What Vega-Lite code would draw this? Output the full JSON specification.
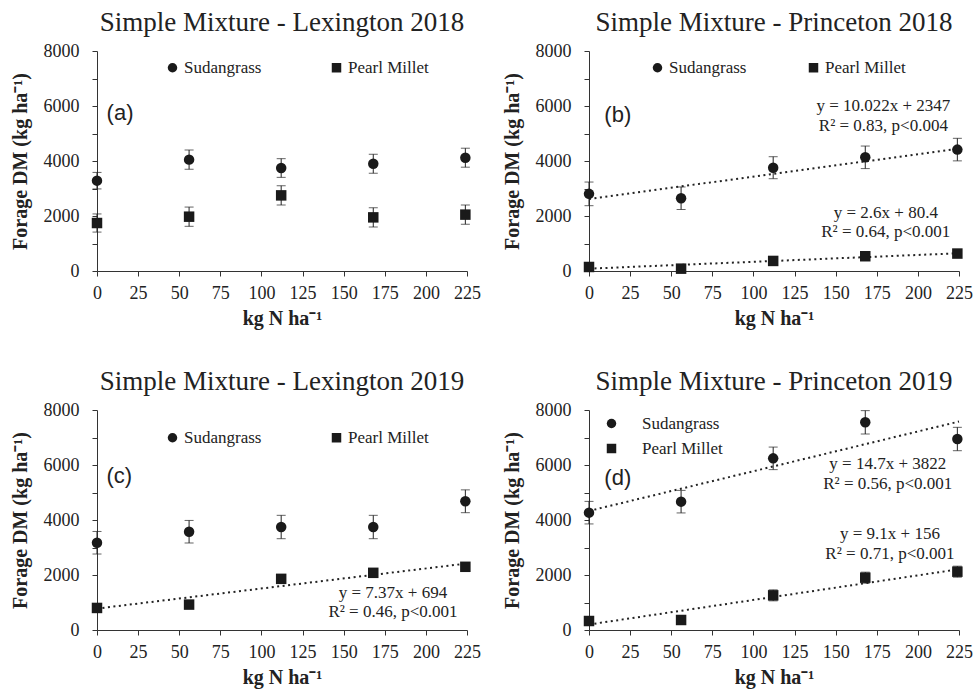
{
  "$schema": "https://vega.github.io/schema/vega-lite/v6.json",
  "columns": 2,
  "spacing": {"row": 40, "column": 21},
  "padding": {"left": 10, "top": 9, "right": 5, "bottom": 5},
  "datasets": {
    "d": [
      {"p": "a", "k": "pt", "sp": "Sudangrass", "n": 0, "dm": 3285, "lo": 2985, "hi": 3585},
      {"p": "a", "k": "pt", "sp": "Sudangrass", "n": 56, "dm": 4050, "lo": 3700, "hi": 4400},
      {"p": "a", "k": "pt", "sp": "Sudangrass", "n": 112, "dm": 3745, "lo": 3405, "hi": 4085},
      {"p": "a", "k": "pt", "sp": "Sudangrass", "n": 168, "dm": 3900, "lo": 3555, "hi": 4245},
      {"p": "a", "k": "pt", "sp": "Sudangrass", "n": 224, "dm": 4120, "lo": 3775, "hi": 4465},
      {"p": "a", "k": "pt", "sp": "Pearl Millet", "n": 0, "dm": 1745, "lo": 1415, "hi": 2075},
      {"p": "a", "k": "pt", "sp": "Pearl Millet", "n": 56, "dm": 1975, "lo": 1625, "hi": 2325},
      {"p": "a", "k": "pt", "sp": "Pearl Millet", "n": 112, "dm": 2750, "lo": 2400, "hi": 3100},
      {"p": "a", "k": "pt", "sp": "Pearl Millet", "n": 168, "dm": 1950, "lo": 1600, "hi": 2300},
      {"p": "a", "k": "pt", "sp": "Pearl Millet", "n": 224, "dm": 2050, "lo": 1700, "hi": 2400},
      {"p": "a", "k": "lab", "n": 14, "dm": 5745, "t": "(a)"},

      {"p": "b", "k": "pt", "sp": "Sudangrass", "n": 0, "dm": 2805, "lo": 2375, "hi": 3235},
      {"p": "b", "k": "pt", "sp": "Sudangrass", "n": 56, "dm": 2646, "lo": 2236, "hi": 3056},
      {"p": "b", "k": "pt", "sp": "Sudangrass", "n": 112, "dm": 3756, "lo": 3356, "hi": 4156},
      {"p": "b", "k": "pt", "sp": "Sudangrass", "n": 168, "dm": 4134, "lo": 3724, "hi": 4544},
      {"p": "b", "k": "pt", "sp": "Sudangrass", "n": 224, "dm": 4415, "lo": 4005, "hi": 4825},
      {"p": "b", "k": "pt", "sp": "Pearl Millet", "n": 0, "dm": 146, "lo": 66, "hi": 226},
      {"p": "b", "k": "pt", "sp": "Pearl Millet", "n": 56, "dm": 85, "lo": 5, "hi": 165},
      {"p": "b", "k": "pt", "sp": "Pearl Millet", "n": 112, "dm": 366, "lo": 286, "hi": 446},
      {"p": "b", "k": "pt", "sp": "Pearl Millet", "n": 168, "dm": 537, "lo": 457, "hi": 617},
      {"p": "b", "k": "pt", "sp": "Pearl Millet", "n": 224, "dm": 634, "lo": 554, "hi": 714},
      {"p": "b", "k": "ln", "sp": "Sudangrass", "n": 0, "dm": 2620},
      {"p": "b", "k": "ln", "sp": "Sudangrass", "n": 225, "dm": 4450},
      {"p": "b", "k": "ln", "sp": "Pearl Millet", "n": 0, "dm": 85},
      {"p": "b", "k": "ln", "sp": "Pearl Millet", "n": 225, "dm": 646},
      {"p": "b", "k": "eq", "n": 179, "dm": 5989, "t": "y = 10.022x + 2347"},
      {"p": "b", "k": "eq", "n": 179, "dm": 5284, "t": "R² = 0.83, p<0.004"},
      {"p": "b", "k": "eq", "n": 180.5, "dm": 2109, "t": "y = 2.6x + 80.4"},
      {"p": "b", "k": "eq", "n": 180.5, "dm": 1407, "t": "R² = 0.64, p<0.001"},
      {"p": "b", "k": "lab", "n": 17.5, "dm": 5685, "t": "(b)"},

      {"p": "c", "k": "pt", "sp": "Sudangrass", "n": 0, "dm": 3173, "lo": 2763, "hi": 3583},
      {"p": "c", "k": "pt", "sp": "Sudangrass", "n": 56, "dm": 3574, "lo": 3164, "hi": 3984},
      {"p": "c", "k": "pt", "sp": "Sudangrass", "n": 112, "dm": 3745, "lo": 3320, "hi": 4170},
      {"p": "c", "k": "pt", "sp": "Sudangrass", "n": 168, "dm": 3745, "lo": 3320, "hi": 4170},
      {"p": "c", "k": "pt", "sp": "Sudangrass", "n": 224, "dm": 4681, "lo": 4266, "hi": 5096},
      {"p": "c", "k": "pt", "sp": "Pearl Millet", "n": 0, "dm": 802, "lo": 702, "hi": 902},
      {"p": "c", "k": "pt", "sp": "Pearl Millet", "n": 56, "dm": 924, "lo": 824, "hi": 1024},
      {"p": "c", "k": "pt", "sp": "Pearl Millet", "n": 112, "dm": 1860, "lo": 1760, "hi": 1960},
      {"p": "c", "k": "pt", "sp": "Pearl Millet", "n": 168, "dm": 2079, "lo": 1979, "hi": 2179},
      {"p": "c", "k": "pt", "sp": "Pearl Millet", "n": 224, "dm": 2298, "lo": 2198, "hi": 2398},
      {"p": "c", "k": "ln", "sp": "Pearl Millet", "n": 0, "dm": 780},
      {"p": "c", "k": "ln", "sp": "Pearl Millet", "n": 225, "dm": 2420},
      {"p": "c", "k": "eq", "n": 180, "dm": 1356, "t": "y = 7.37x + 694"},
      {"p": "c", "k": "eq", "n": 180, "dm": 665, "t": "R² = 0.46, p<0.001"},
      {"p": "c", "k": "lab", "n": 13.6, "dm": 5600, "t": "(c)"},

      {"p": "d", "k": "pt", "sp": "Sudangrass", "n": 0, "dm": 4267, "lo": 3857, "hi": 4677},
      {"p": "d", "k": "pt", "sp": "Sudangrass", "n": 56, "dm": 4667, "lo": 4257, "hi": 5077},
      {"p": "d", "k": "pt", "sp": "Sudangrass", "n": 112, "dm": 6242, "lo": 5832, "hi": 6652},
      {"p": "d", "k": "pt", "sp": "Sudangrass", "n": 168, "dm": 7552, "lo": 7127, "hi": 7977},
      {"p": "d", "k": "pt", "sp": "Sudangrass", "n": 224, "dm": 6945, "lo": 6520, "hi": 7370},
      {"p": "d", "k": "pt", "sp": "Pearl Millet", "n": 0, "dm": 327, "lo": 177, "hi": 477},
      {"p": "d", "k": "pt", "sp": "Pearl Millet", "n": 56, "dm": 364, "lo": 214, "hi": 514},
      {"p": "d", "k": "pt", "sp": "Pearl Millet", "n": 112, "dm": 1260, "lo": 1060, "hi": 1460},
      {"p": "d", "k": "pt", "sp": "Pearl Millet", "n": 168, "dm": 1903, "lo": 1703, "hi": 2103},
      {"p": "d", "k": "pt", "sp": "Pearl Millet", "n": 224, "dm": 2121, "lo": 1921, "hi": 2321},
      {"p": "d", "k": "ln", "sp": "Sudangrass", "n": 0, "dm": 4330},
      {"p": "d", "k": "ln", "sp": "Sudangrass", "n": 225, "dm": 7580},
      {"p": "d", "k": "ln", "sp": "Pearl Millet", "n": 0, "dm": 200},
      {"p": "d", "k": "ln", "sp": "Pearl Millet", "n": 225, "dm": 2210},
      {"p": "d", "k": "eq", "n": 181.7, "dm": 6036, "t": "y = 14.7x + 3822"},
      {"p": "d", "k": "eq", "n": 181.7, "dm": 5309, "t": "R² = 0.56, p<0.001"},
      {"p": "d", "k": "eq", "n": 183, "dm": 3502, "t": "y = 9.1x + 156"},
      {"p": "d", "k": "eq", "n": 183, "dm": 2775, "t": "R² = 0.71, p<0.001"},
      {"p": "d", "k": "lab", "n": 17.5, "dm": 5527, "t": "(d)"}
    ]
  },
  "concat": [
    {
      "width": 370, "height": 220,
      "title": "Simple Mixture - Lexington 2018",
      "data": {"name": "d"},
      "encoding": {
        "x": {"field": "n", "type": "quantitative", "scale": {"domain": [0, 225], "nice": false}, "axis": {"values": [0, 25, 50, 75, 100, 125, 150, 175, 200, 225], "title": "kg N ha⁻¹"}},
        "y": {"field": "dm", "type": "quantitative", "scale": {"domain": [0, 8000], "nice": false}, "axis": {"values": [0, 1000, 2000, 3000, 4000, 5000, 6000, 7000, 8000], "labelExpr": "datum.value % 2000 === 0 ? datum.value : ''", "title": "Forage DM (kg ha⁻¹)"}}
      },
      "layer": [
        {"transform": [{"filter": "datum.p === 'a' && datum.k === 'pt'"}], "mark": {"type": "errorbar", "ticks": {"size": 9, "color": "#222"}, "rule": {"color": "#222", "strokeWidth": 1}}, "encoding": {"y": {"field": "lo", "type": "quantitative", "title": "Forage DM (kg ha⁻¹)"}, "y2": {"field": "hi"}}},
        {"transform": [{"filter": "datum.p === 'a' && datum.k === 'pt'"}], "mark": {"type": "point", "filled": true, "opacity": 1, "color": "#1a1a1a", "size": 110}, "encoding": {"shape": {"field": "sp", "type": "nominal", "scale": {"domain": ["Sudangrass", "Pearl Millet"], "range": ["circle", "square"]}, "legend": {"orient": "none", "legendX": 67, "legendY": 8, "direction": "horizontal", "title": null, "columnPadding": 66}}}},
        {"transform": [{"filter": "datum.p === 'a' && datum.k === 'lab'"}], "mark": {"type": "text", "font": "Liberation Sans", "fontSize": 22, "color": "#222"}, "encoding": {"text": {"field": "t"}}}
      ]
    },
    {
      "width": 370, "height": 220,
      "title": "Simple Mixture - Princeton 2018",
      "data": {"name": "d"},
      "encoding": {
        "x": {"field": "n", "type": "quantitative", "scale": {"domain": [0, 225], "nice": false}, "axis": {"values": [0, 25, 50, 75, 100, 125, 150, 175, 200, 225], "title": "kg N ha⁻¹"}},
        "y": {"field": "dm", "type": "quantitative", "scale": {"domain": [0, 8000], "nice": false}, "axis": {"values": [0, 1000, 2000, 3000, 4000, 5000, 6000, 7000, 8000], "labelExpr": "datum.value % 2000 === 0 ? datum.value : ''", "title": "Forage DM (kg ha⁻¹)"}}
      },
      "layer": [
        {"transform": [{"filter": "datum.p === 'b' && datum.k === 'ln'"}], "mark": {"type": "line", "strokeDash": [2, 3.5], "strokeWidth": 2, "color": "#222"}, "encoding": {"detail": {"field": "sp"}}},
        {"transform": [{"filter": "datum.p === 'b' && datum.k === 'pt'"}], "mark": {"type": "errorbar", "ticks": {"size": 9, "color": "#222"}, "rule": {"color": "#222", "strokeWidth": 1}}, "encoding": {"y": {"field": "lo", "type": "quantitative", "title": "Forage DM (kg ha⁻¹)"}, "y2": {"field": "hi"}}},
        {"transform": [{"filter": "datum.p === 'b' && datum.k === 'pt'"}], "mark": {"type": "point", "filled": true, "opacity": 1, "color": "#1a1a1a", "size": 110}, "encoding": {"shape": {"field": "sp", "type": "nominal", "scale": {"domain": ["Sudangrass", "Pearl Millet"], "range": ["circle", "square"]}, "legend": {"orient": "none", "legendX": 60, "legendY": 8, "direction": "horizontal", "title": null, "columnPadding": 58}}}},
        {"transform": [{"filter": "datum.p === 'b' && datum.k === 'eq'"}], "mark": {"type": "text", "font": "Liberation Serif", "fontSize": 17, "color": "#222"}, "encoding": {"text": {"field": "t"}}},
        {"transform": [{"filter": "datum.p === 'b' && datum.k === 'lab'"}], "mark": {"type": "text", "font": "Liberation Sans", "fontSize": 22, "color": "#222"}, "encoding": {"text": {"field": "t"}}}
      ]
    },
    {
      "width": 370, "height": 220,
      "title": "Simple Mixture - Lexington 2019",
      "data": {"name": "d"},
      "encoding": {
        "x": {"field": "n", "type": "quantitative", "scale": {"domain": [0, 225], "nice": false}, "axis": {"values": [0, 25, 50, 75, 100, 125, 150, 175, 200, 225], "title": "kg N ha⁻¹"}},
        "y": {"field": "dm", "type": "quantitative", "scale": {"domain": [0, 8000], "nice": false}, "axis": {"values": [0, 1000, 2000, 3000, 4000, 5000, 6000, 7000, 8000], "labelExpr": "datum.value % 2000 === 0 ? datum.value : ''", "title": "Forage DM (kg ha⁻¹)"}}
      },
      "layer": [
        {"transform": [{"filter": "datum.p === 'c' && datum.k === 'ln'"}], "mark": {"type": "line", "strokeDash": [2, 3.5], "strokeWidth": 2, "color": "#222"}, "encoding": {"detail": {"field": "sp"}}},
        {"transform": [{"filter": "datum.p === 'c' && datum.k === 'pt'"}], "mark": {"type": "errorbar", "ticks": {"size": 9, "color": "#222"}, "rule": {"color": "#222", "strokeWidth": 1}}, "encoding": {"y": {"field": "lo", "type": "quantitative", "title": "Forage DM (kg ha⁻¹)"}, "y2": {"field": "hi"}}},
        {"transform": [{"filter": "datum.p === 'c' && datum.k === 'pt'"}], "mark": {"type": "point", "filled": true, "opacity": 1, "color": "#1a1a1a", "size": 110}, "encoding": {"shape": {"field": "sp", "type": "nominal", "scale": {"domain": ["Sudangrass", "Pearl Millet"], "range": ["circle", "square"]}, "legend": {"orient": "none", "legendX": 67, "legendY": 19, "direction": "horizontal", "title": null, "columnPadding": 66}}}},
        {"transform": [{"filter": "datum.p === 'c' && datum.k === 'eq'"}], "mark": {"type": "text", "font": "Liberation Serif", "fontSize": 17, "color": "#222"}, "encoding": {"text": {"field": "t"}}},
        {"transform": [{"filter": "datum.p === 'c' && datum.k === 'lab'"}], "mark": {"type": "text", "font": "Liberation Sans", "fontSize": 22, "color": "#222"}, "encoding": {"text": {"field": "t"}}}
      ]
    },
    {
      "width": 370, "height": 220,
      "title": "Simple Mixture - Princeton 2019",
      "data": {"name": "d"},
      "encoding": {
        "x": {"field": "n", "type": "quantitative", "scale": {"domain": [0, 225], "nice": false}, "axis": {"values": [0, 25, 50, 75, 100, 125, 150, 175, 200, 225], "title": "kg N ha⁻¹"}},
        "y": {"field": "dm", "type": "quantitative", "scale": {"domain": [0, 8000], "nice": false}, "axis": {"values": [0, 1000, 2000, 3000, 4000, 5000, 6000, 7000, 8000], "labelExpr": "datum.value % 2000 === 0 ? datum.value : ''", "title": "Forage DM (kg ha⁻¹)"}}
      },
      "layer": [
        {"transform": [{"filter": "datum.p === 'd' && datum.k === 'ln'"}], "mark": {"type": "line", "strokeDash": [2, 3.5], "strokeWidth": 2, "color": "#222"}, "encoding": {"detail": {"field": "sp"}}},
        {"transform": [{"filter": "datum.p === 'd' && datum.k === 'pt'"}], "mark": {"type": "errorbar", "ticks": {"size": 9, "color": "#222"}, "rule": {"color": "#222", "strokeWidth": 1}}, "encoding": {"y": {"field": "lo", "type": "quantitative", "title": "Forage DM (kg ha⁻¹)"}, "y2": {"field": "hi"}}},
        {"transform": [{"filter": "datum.p === 'd' && datum.k === 'pt'"}], "mark": {"type": "point", "filled": true, "opacity": 1, "color": "#1a1a1a", "size": 110}, "encoding": {"shape": {"field": "sp", "type": "nominal", "scale": {"domain": ["Sudangrass", "Pearl Millet"], "range": ["circle", "square"]}, "legend": {"orient": "none", "legendX": 14, "legendY": 5, "direction": "vertical", "title": null, "labelOffset": 22, "rowPadding": 7}}}},
        {"transform": [{"filter": "datum.p === 'd' && datum.k === 'eq'"}], "mark": {"type": "text", "font": "Liberation Serif", "fontSize": 17, "color": "#222"}, "encoding": {"text": {"field": "t"}}},
        {"transform": [{"filter": "datum.p === 'd' && datum.k === 'lab'"}], "mark": {"type": "text", "font": "Liberation Sans", "fontSize": 22, "color": "#222"}, "encoding": {"text": {"field": "t"}}}
      ]
    }
  ],
  "resolve": {"scale": {"shape": "independent"}, "legend": {"shape": "independent"}},
  "config": {
    "view": {"stroke": null},
    "font": "Liberation Serif",
    "title": {"font": "Liberation Serif", "fontSize": 27, "fontWeight": "normal", "color": "#222", "offset": 5},
    "axis": {"labelFont": "Liberation Serif", "labelFontSize": 18, "labelColor": "#222", "titleFont": "Liberation Serif", "titleFontSize": 20, "titleFontWeight": "bold", "titleColor": "#222", "domainColor": "#333", "tickColor": "#333", "tickSize": 5, "grid": false, "labelPadding": 8, "titlePadding": 6, "labelFlush": false, "labelOverlap": false},
    "axisY": {"labelPadding": 13, "titlePadding": 13},
    "legend": {"labelFont": "Liberation Serif", "labelFontSize": 17, "labelColor": "#222", "symbolSize": 90, "symbolFillColor": "#1a1a1a", "symbolStrokeColor": "#1a1a1a", "symbolStrokeWidth": 0, "labelOffset": 3}
  }
}
